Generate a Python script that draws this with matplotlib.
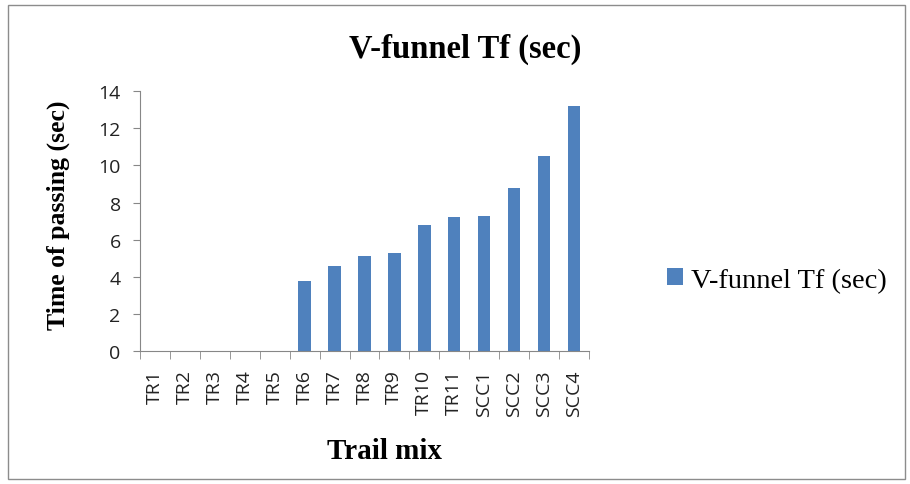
import matplotlib
matplotlib.use("Agg")
import matplotlib.pyplot as plt
from matplotlib.patches import Rectangle
import numpy as np

# chart data
mixes = ["TR1", "TR2", "TR3", "TR4", "TR5", "TR6", "TR7", "TR8", "TR9",
         "TR10", "TR11", "SCC1", "SCC2", "SCC3", "SCC4"]
vfunnel_tf = [0, 0, 0, 0, 0, 3.8, 4.6, 5.1, 5.3, 6.8, 7.2, 7.3, 8.8, 10.5, 13.2]

bar_color = "#4F81BD"
axis_grey = "#878787"
serif = "Liberation Serif"
sans = "Open Sans"

fig = plt.figure(figsize=(9.1, 4.85), dpi=100)
# outer chart border
fig.patches.append(Rectangle((0.009, 0.01), 0.985, 0.978, transform=fig.transFigure,
                             fill=False, edgecolor="#8c8c8c", linewidth=1.0))

ax = fig.add_axes([0.154, 0.274, 0.493, 0.536])
x = np.arange(len(mixes))
bars = ax.bar(x, vfunnel_tf, width=0.42, color=bar_color, label="V-funnel Tf (sec)")

ax.set_xlim(-0.5, len(mixes) - 0.5)
ax.set_ylim(0, 14)
ax.set_yticks(range(0, 15, 2))
ax.set_xticks(x)
ax.set_xticklabels(mixes, rotation=90, fontfamily=sans, fontsize=14)
for lab in ax.get_yticklabels():
    lab.set_fontfamily(sans)
    lab.set_fontsize(14)
    lab.set_color("#222222")
for lab in ax.get_xticklabels():
    lab.set_color("#222222")

# category boundary ticks on the x axis
ax.set_xticks(np.arange(-0.5, len(mixes), 1), minor=True)
ax.tick_params(axis="x", which="major", length=0, pad=13)
ax.tick_params(axis="x", which="minor", length=6, color=axis_grey, direction="out")
ax.tick_params(axis="y", length=5, color=axis_grey, direction="out", pad=9)

for side in ["top", "right"]:
    ax.spines[side].set_visible(False)
for side in ["left", "bottom"]:
    ax.spines[side].set_color(axis_grey)

fig.text(0.064, 0.557, "Time of passing (sec)", rotation=90, ha="center", va="center",
         fontfamily=serif, fontweight="bold", fontsize=18.5)
fig.text(0.423, 0.07, "Trail mix", ha="center", va="center",
         fontfamily=serif, fontweight="bold", fontsize=21)
fig.text(0.511, 0.899, "V-funnel Tf (sec)", ha="center", va="center",
         fontfamily=serif, fontweight="bold", fontsize=23.5)

leg = fig.legend(handles=[bars], labels=["V-funnel Tf (sec)"], loc="center left",
                 bbox_to_anchor=(0.733, 0.42), frameon=False, borderpad=0,
                 borderaxespad=0, prop={"family": serif, "size": 20.5},
                 handlelength=0.55, handleheight=0.55, handletextpad=0.3)

fig.savefig("out.png", dpi=100)
